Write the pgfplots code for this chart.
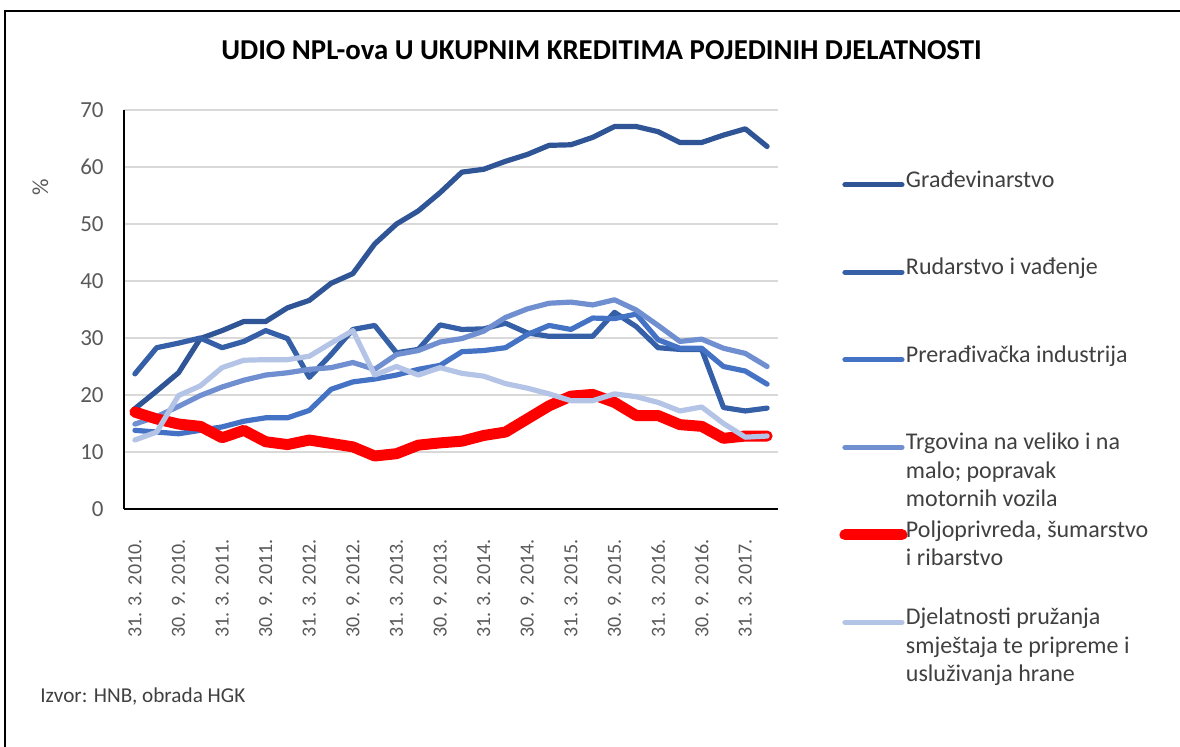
\documentclass[border=0pt]{standalone}
\usepackage{fontspec}
\setmainfont{Carlito}
\usepackage{pgfplots}
\usepackage{pgfplotstable}
\pgfplotsset{compat=1.18}
\definecolor{cGra}{HTML}{2F5597}
\definecolor{cRud}{HTML}{355FA6}
\definecolor{cPre}{HTML}{4472C4}
\definecolor{cTrg}{HTML}{6F8FD1}
\definecolor{cPol}{HTML}{FF0000}
\definecolor{cDje}{HTML}{B4C4E6}
\definecolor{gridc}{HTML}{D9D9D9}
\definecolor{tickc}{HTML}{595959}
\definecolor{legc}{HTML}{404040}
\newcommand{\lgtext}[1]{\begin{tabular}[t]{@{}l@{}}#1\end{tabular}}
\pgfplotstableread{
i gra rud pre trg pol dje
0 17.6 23.7 13.8 14.9 17.0 12.1
1 20.7 28.3 13.5 16.2 15.8 13.5
2 23.9 29.1 13.2 18.0 14.9 19.9
3 29.9 30.0 13.8 19.9 14.5 21.6
4 31.3 28.3 14.4 21.4 12.5 24.8
5 32.9 29.4 15.4 22.6 13.8 26.1
6 32.9 31.3 16.0 23.5 11.8 26.2
7 35.3 29.9 16.0 23.9 11.3 26.2
8 36.6 23.1 17.3 24.5 12.1 26.8
9 39.6 27.1 21.0 24.8 11.5 29.1
10 41.3 31.5 22.3 25.7 10.9 31.3
11 46.5 32.2 22.8 24.5 9.3 23.5
12 50.0 27.4 23.5 27.1 9.7 25.0
13 52.3 28.0 24.5 27.8 11.2 23.5
14 55.5 32.3 25.2 29.3 11.6 24.8
15 59.1 31.5 27.6 29.9 11.9 23.8
16 59.6 31.6 27.8 31.2 12.9 23.3
17 61.0 32.6 28.3 33.6 13.5 22.0
18 62.2 30.9 30.6 35.1 15.8 21.2
19 63.8 30.3 32.2 36.1 18.1 20.2
20 63.9 30.3 31.5 36.3 19.8 19.0
21 65.2 30.3 33.5 35.8 20.1 19.0
22 67.1 34.5 33.4 36.7 18.7 20.2
23 67.1 32.0 34.2 34.9 16.4 19.7
24 66.2 28.3 29.7 32.2 16.4 18.7
25 64.3 28.0 28.2 29.4 14.8 17.2
26 64.3 28.0 28.2 29.8 14.5 17.9
27 65.6 17.8 25.0 28.2 12.4 15.0
28 66.7 17.2 24.2 27.3 12.8 12.6
29 63.6 17.7 21.9 25.0 12.8 12.8
}\data
\begin{document}
\begin{tikzpicture}
\useasboundingbox (0pt,0pt) rectangle (590pt,-373.5pt);
\draw[line width=1.1pt, black] (2.6pt,-400pt) -- (2.6pt,-5.6pt) -- (620pt,-5.6pt);
\node[font=\bfseries\fontsize{14.4}{17}\selectfont, anchor=center] at (300.75pt,-25pt) {UDIO NPL-ova U UKUPNIM KREDITIMA POJEDINIH DJELATNOSTI};
\node[font=\fontsize{10.6}{13}\selectfont, anchor=west, inner sep=0pt, text=legc] at (20pt,-348.5pt) {Izvor: HNB, obrada HGK};
\begin{axis}[
  at={(62pt,-254.5pt)}, anchor=south west,
  scale only axis, width=327pt, height=199.5pt,
  xmin=-0.5, xmax=29.5, ymin=0, ymax=70,
  axis x line=bottom, axis y line=left,
  axis line style={-, black, line width=1pt},
  ytick={0,10,...,70},
  ymajorgrids, grid style={gridc, line width=0.8pt},
  xtick={0,2,...,28},
  xticklabels={31. 3. 2010., 30. 9. 2010., 31. 3. 2011., 30. 9. 2011., 31. 3. 2012., 30. 9. 2012., 31. 3. 2013., 30. 9. 2013., 31. 3. 2014., 30. 9. 2014., 31. 3. 2015., 30. 9. 2015., 31. 3. 2016., 30. 9. 2016., 31. 3. 2017.},
  major tick length=0pt,
  /pgf/number format/assume math mode=true,
  tick label style={font=\fontsize{11.5}{13}\selectfont, text=tickc},
  xticklabel style={rotate=90, anchor=east, inner sep=0pt, font=\fontsize{10}{12}\selectfont},
  xticklabel shift=15pt,
  yticklabel style={anchor=east, inner sep=0pt},
  yticklabel shift=10pt,
  ylabel={\%},
  ylabel style={at={(axis description cs:-0.128,0.807)}, anchor=center, font=\fontsize{11.5}{13}\selectfont, text=tickc},
  legend cell align=left,
  legend image code/.code={\path[draw=none, fill=none, use as bounding box] (0pt,0pt) rectangle (28.5pt,0.1pt); \draw[#1] (0pt,15pt) -- (28.5pt,15pt);},
  legend style={at={(axis description cs:1.1024,0.847)}, anchor=north west, draw=none, fill=none,
    inner sep=0pt, outer sep=0pt, row sep=0pt, column sep=2pt,
    font=\fontsize{12}{14.25}\selectfont, text=legc,
    nodes={inner sep=0pt, text height=8pt, text depth=35.75pt}},
  every axis plot/.append style={line join=round, line cap=round},
]
\addplot[cGra, line width=2.6pt] table[x=i, y=gra] {\data};
\addlegendentry{\lgtext{Građevinarstvo}}
\addplot[cRud, line width=2.6pt] table[x=i, y=rud] {\data};
\addlegendentry{\lgtext{Rudarstvo i vađenje}}
\addplot[cPre, line width=2.6pt] table[x=i, y=pre] {\data};
\addlegendentry{\lgtext{Prerađivačka industrija}}
\addplot[cTrg, line width=2.6pt] table[x=i, y=trg] {\data};
\addlegendentry{\lgtext{Trgovina na veliko i na\\malo; popravak\\motornih vozila}}
\addplot[cPol, line width=5.5pt] table[x=i, y=pol] {\data};
\addlegendentry{\lgtext{Poljoprivreda, šumarstvo\\i ribarstvo}}
\addplot[cDje, line width=2.6pt] table[x=i, y=dje] {\data};
\addlegendentry{\lgtext{Djelatnosti pružanja\\smještaja te pripreme i\\usluživanja hrane}}
\end{axis}
\end{tikzpicture}
\end{document}
